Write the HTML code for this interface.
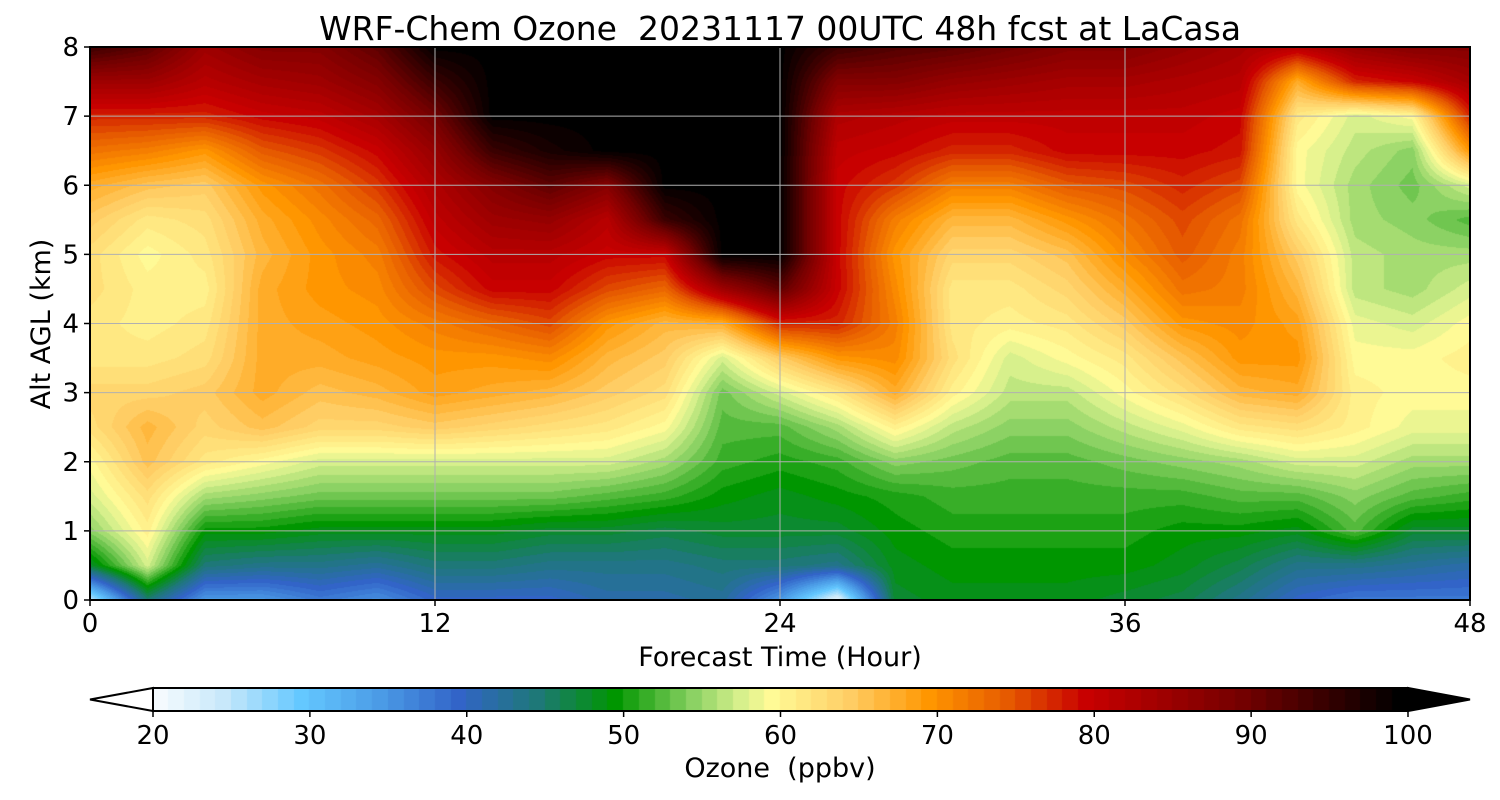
<!DOCTYPE html>
<html><head><meta charset="utf-8">
<style>
html,body{margin:0;padding:0;background:#fff;width:1500px;height:800px;overflow:hidden}
#wrap{position:relative;width:1500px;height:800px}
canvas{position:absolute;left:0;top:0}
svg{position:absolute;left:0;top:0}
text{font-family:"DejaVu Sans","Liberation Sans",sans-serif;fill:#000;white-space:pre}
</style></head>
<body>
<div id="wrap">
<canvas id="cv" width="1500" height="800"></canvas>
<svg id="sv" width="1500" height="800"></svg>
</div>
<script>
// ---- data ----
const hours = [0,2,4,6,8,10,12,14,16,18,20,22,24,26,28,30,32,34,36,38,40,42,44,46,48];
const heights = [0,0.5,1,1.5,2,2.5,3,3.5,4,4.5,5,5.5,6,6.5,7,7.5,8];
const ozone = [
[25,48,55,58,60,63,64,62,62,63,63,65,68,73,78,85,95],
[45,58,61,63,66,67,64,62,61,61,60,62,66,72,78,85,92],
[35,45,50,56,62,64,65,63,62,61,62,63,65,70,78,82,85],
[35,44,50,55,60,66,68,68,68,68,67,68,70,75,80,84,88],
[38,44,49,54,58,64,66,68,69,70,70,71,73,77,81,85,88],
[36,43,49,54,58,64,67,69,70,71,72,74,77,80,84,88,92],
[40,45,49,54,58,65,69,70,72,76,79,81,83,86,90,95,100],
[40,45,49,54,58,64,68,70,74,80,82,85,88,95,100,100,100],
[40,44,48,54,58,63,67,71,76,80,82,86,92,98,100,100,100],
[42,44,48,53,58,62,65,67,70,76,80,82,88,100,100,100,100],
[42,44,47,52,56,60,63,65,67,74,80,95,100,100,100,100,100],
[43,45,48,50,52,53,54,58,68,85,100,100,100,100,100,100,100],
[35,45,48,49,51,53,58,65,78,92,100,100,100,100,100,100,100],
[22,44,48,50,52,56,62,70,78,80,80,80,80,81,83,88,95],
[48,49,50,51,55,61,68,71,72,71,70,72,77,80,82,88,93],
[49,50,51,52,54,57,61,63,62,62,64,67,72,78,81,86,92],
[49,50,51,52,53,55,57,58,61,62,64,67,72,78,81,85,90],
[49,50,51,52,53,55,57,60,62,64,66,70,75,80,81,84,88],
[48,50,51,52,54,57,60,62,65,68,71,73,76,80,81,84,88],
[47,49,50,52,55,59,63,66,70,73,75,76,78,80,81,83,86],
[44,47,50,53,56,62,67,70,71,72,72,73,76,79,80,82,84],
[40,44,49,53,58,63,68,70,69,67,65,62,60,60,62,68,82],
[38,44,53,55,58,61,61,60,59,57,57,56,56,57,58,78,86],
[38,43,48,53,56,59,60,60,58,56,56,55,54,55,60,80,88],
[38,42,48,52,56,59,60,61,60,58,56,53,58,70,78,84,88]
];
const xTicks = [0,12,24,36,48];
const yTicks = [0,1,2,3,4,5,6,7,8];
const cbTicks = [20,30,40,50,60,70,80,90,100];

// ---- layout ----
const PL=90, PR=1470, PT=47, PB=600;
const xScale = h => PL + (h-0)/(48-0)*(PR-PL);
const yScale = z => PB - (z-0)/(8-0)*(PB-PT);
const CBL=153, CBR=1408, CBT=688, CBB=711;
const cbScale = v => CBL + (v-20)/(100-20)*(CBR-CBL);

const stops = [[20,[255,255,255]],[25,[200,232,250]],[30,[100,200,255]],[35,[75,155,230]],[40,[50,100,200]],[45,[30,120,120]],[50,[0,150,0]],[55,[140,210,100]],[58,[215,240,140]],[60,[255,250,150]],[65,[255,205,100]],[70,[255,150,0]],[75,[230,90,0]],[80,[200,0,0]],[90,[115,0,0]],[100,[0,0,0]]];
function cmap(v){
  v=Math.round(v); if(v<=20) return stops[0][1]; if(v>=100) return stops[stops.length-1][1];
  for(let i=0;i<stops.length-1;i++){const a=stops[i],b=stops[i+1];
    if(v<=b[0]){const t=(v-a[0])/(b[0]-a[0]);return a[1].map((c,k)=>Math.round(c+(b[1][k]-c)*t));}}
}
function interp(h,z){
  let i=0; while(i<hours.length-2 && h>hours[i+1]) i++;
  let j=0; while(j<heights.length-2 && z>heights[j+1]) j++;
  const tx=(h-hours[i])/(hours[i+1]-hours[i]), ty=(z-heights[j])/(heights[j+1]-heights[j]);
  const a=ozone[i][j],b=ozone[i+1][j],c=ozone[i][j+1],d=ozone[i+1][j+1];
  return a*(1-tx)*(1-ty)+b*tx*(1-ty)+c*(1-tx)*ty+d*tx*ty;
}
const cv=document.getElementById('cv'), ctx=cv.getContext('2d');
const W=PR-PL, H=PB-PT, img=ctx.createImageData(W,H);
for(let py=0;py<H;py++){const z=(PB-(PT+py+0.5))/(PB-PT)*8;
  for(let px=0;px<W;px++){const h=(px+0.5)/W*48;const c=cmap(interp(h,z));const o=(py*W+px)*4;
    img.data[o]=c[0];img.data[o+1]=c[1];img.data[o+2]=c[2];img.data[o+3]=255;}}
ctx.putImageData(img,PL,PT);
for(let v=20;v<100;v++){const c=cmap(v+0.5);ctx.fillStyle='rgb('+c.join(',')+')';
  ctx.fillRect(Math.floor(cbScale(v)),CBT,Math.ceil(cbScale(v+1)-cbScale(v))+1,CBB-CBT);}

const NS='http://www.w3.org/2000/svg', sv=document.getElementById('sv');
function mk(tag,attrs,txt){const e=document.createElementNS(NS,tag);for(const k in attrs)e.setAttribute(k,attrs[k]);if(txt!==undefined)e.textContent=txt;sv.appendChild(e);return e;}
xTicks.forEach(t=>{const x=xScale(t);
  const g=mk('line',{x1:x,x2:x,y1:PT,y2:PB,stroke:'#b0b0b0','stroke-width':1});
  
  
  const tk=mk('line',{x1:x,x2:x,y1:PB,y2:PB+6,stroke:'#000','stroke-width':1.5});
  
  
  const l=mk('text',{x:x,y:PB+32,'font-size':26,'text-anchor':'middle'},String(t));
  
  
});
yTicks.forEach(t=>{const y=yScale(t);
  const g=mk('line',{x1:PL,x2:PR,y1:y,y2:y,stroke:'#b0b0b0','stroke-width':1});
  
  
  const tk=mk('line',{x1:PL-6,x2:PL,y1:y,y2:y,stroke:'#000','stroke-width':1.5});
  
  
  const l=mk('text',{x:PL-11,y:y+9,'font-size':26,'text-anchor':'end'},String(t));
  
  
});
const fr=mk('rect',{x:PL,y:PT,width:W,height:H,fill:'none',stroke:'#000','stroke-width':2});


const ti=mk('text',{x:780,y:40,'font-size':33,'text-anchor':'middle'},'WRF-Chem Ozone  20231117 00UTC 48h fcst at LaCasa');


const xl=mk('text',{x:780,y:666,'font-size':27,'text-anchor':'middle'},'Forecast Time (Hour)');


const yl=mk('text',{x:50,y:324,'font-size':27,'text-anchor':'middle',transform:'rotate(-90 50 324)'},'Alt AGL (km)');


const mid=(CBT+CBB)/2;
const lt=mk('polygon',{points:`${CBL},${CBT} ${CBL},${CBB} 90,${mid}`,fill:'#fff',stroke:'#000','stroke-width':2});


const rt=mk('polygon',{points:`${CBR},${CBT} ${CBR},${CBB} 1470,${mid}`,fill:'#000',stroke:'#000','stroke-width':2});


const cf=mk('rect',{x:CBL,y:CBT,width:CBR-CBL,height:CBB-CBT,fill:'none',stroke:'#000','stroke-width':2});


cbTicks.forEach(t=>{const x=cbScale(t);
  const tk=mk('line',{x1:x,x2:x,y1:CBB,y2:CBB+6,stroke:'#000','stroke-width':1.5});
  
  
  const l=mk('text',{x:x,y:744,'font-size':26,'text-anchor':'middle'},String(t));
  
  
});
const cl=mk('text',{x:780,y:777,'font-size':27,'text-anchor':'middle'},'Ozone  (ppbv)');


</script>
</body></html>
